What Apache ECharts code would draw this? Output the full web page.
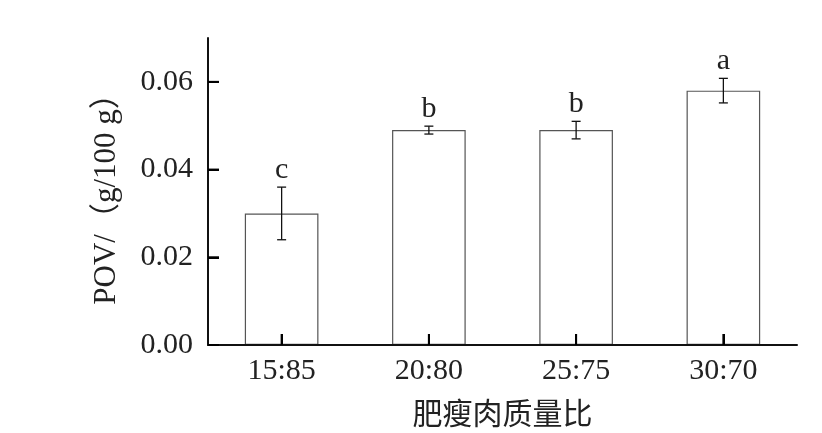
<!DOCTYPE html>
<html>
<head>
<meta charset="utf-8">
<script src="https://cdn.jsdelivr.net/npm/echarts@6/dist/echarts.min.js"></script>
<style>html,body{margin:0;padding:0;background:#fff;}#c{width:822px;height:433px;}</style>
</head>
<body>
<div id="c"></div>
<script>
var categories = ['15:85', '20:80', '25:75', '30:70'];
var means = [0.030, 0.049, 0.049, 0.058];
var errors = [0.006, 0.0009, 0.002, 0.0028];
var letters = ['c', 'b', 'b', 'a'];
var yTicks = [0, 0.02, 0.04, 0.06];

var font = '"Liberation Serif", "Times New Roman", "Noto Sans CJK SC", serif';

function init() {
  var errData = means.map(function (m, i) { return [i, m - errors[i], m + errors[i]]; });
  var chart = echarts.init(document.getElementById('c'), null, {renderer: 'canvas'});
  chart.setOption({
    animation: false,
    backgroundColor: '#fff',
    grid: {left: 208, right: 25, top: 38, bottom: 87},
    xAxis: {
      type: 'category',
      data: categories,
      z: 20,
      name: '肥瘦肉质量比',
      nameLocation: 'middle',
      nameGap: 53,
      nameTextStyle: {fontFamily: '"Noto Sans CJK SC", sans-serif', fontSize: 30, color: '#222'},
      axisLine: {show: true, lineStyle: {color: '#111', width: 2}},
      axisTick: {show: true, inside: true, length: 11, alignWithLabel: true, lineStyle: {color: '#000', width: 2}},
      axisLabel: {fontFamily: font, fontSize: 30, color: '#222', margin: 11},
      splitLine: {show: false}
    },
    yAxis: {
      type: 'value',
      min: 0,
      max: 0.07,
      interval: 0.02,
      z: 20,
      name: 'POV/（g/100 g）',
      nameLocation: 'middle',
      nameGap: 86,
      nameTextStyle: {fontFamily: font, fontSize: 31, color: '#222'},
      axisLine: {show: true, lineStyle: {color: '#111', width: 2}},
      axisTick: {show: true, inside: true, length: 11, customValues: yTicks, lineStyle: {color: '#000', width: 2}},
      axisLabel: {fontFamily: font, fontSize: 30, color: '#222', margin: 15, showMaxLabel: false,
        formatter: function (v) { return v.toFixed(2); }},
      splitLine: {show: false}
    },
    series: [
      {
        type: 'bar',
        data: means,
        barWidth: '50%',
        itemStyle: {color: '#fff', borderColor: '#555', borderWidth: 1.2},
        z: 2
      },
      {
        type: 'custom',
        data: errData,
        z: 5,
        renderItem: function (params, api) {
          var i = api.value(0);
          var lo = api.coord([i, api.value(1)]);
          var hi = api.coord([i, api.value(2)]);
          var st = {stroke: '#111', lineWidth: 1.3};
          return {
            type: 'group',
            children: [
              {type: 'line', shape: {x1: hi[0], y1: hi[1], x2: lo[0], y2: lo[1]}, style: st},
              {type: 'line', shape: {x1: hi[0] - 4.5, y1: hi[1], x2: hi[0] + 4.5, y2: hi[1]}, style: st},
              {type: 'line', shape: {x1: lo[0] - 4.5, y1: lo[1], x2: lo[0] + 4.5, y2: lo[1]}, style: st},
              {type: 'text', style: {text: letters[params.dataIndex], x: hi[0], y: hi[1] - 2,
                textAlign: 'center', textVerticalAlign: 'bottom', fontFamily: font, fontSize: 30, fill: '#222'}}
            ]
          };
        }
      }
    ]
  });

  // Tick marks drawn via the graphic component, positioned through the chart's own scales.
  var els = [];
  categories.forEach(function (c, i) {
    var p = chart.convertToPixel({gridIndex: 0}, [i, 0]);
    els.push({type: 'rect', z: 100, shape: {x: p[0] - 1, y: p[1] - 11, width: 2, height: 11}, style: {fill: '#000'}});
  });
  yTicks.forEach(function (v) {
    var p = chart.convertToPixel({gridIndex: 0}, [0, v]);
    var x0 = chart.convertToPixel({xAxisIndex: 0}, 0) - (chart.convertToPixel({xAxisIndex: 0}, 1) - chart.convertToPixel({xAxisIndex: 0}, 0)) / 2;
    els.push({type: 'rect', z: 100, shape: {x: x0, y: p[1] - 1, width: 11, height: 2}, style: {fill: '#000'}});
  });
  chart.setOption({graphic: {elements: els}});
}
init();
</script>
</body>
</html>
